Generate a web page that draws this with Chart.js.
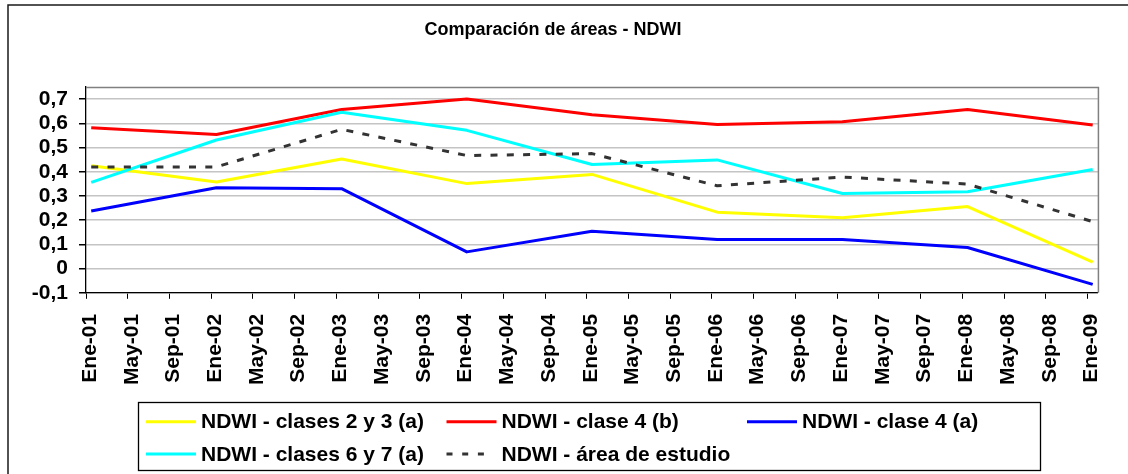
<!DOCTYPE html>
<html>
<head>
<meta charset="utf-8">
<script src="https://cdn.jsdelivr.net/npm/chart.js@4.4.1/dist/chart.umd.min.js"></script>
<style>
html,body{margin:0;padding:0;background:#fff;}
#wrap{width:1128px;height:474px;}
</style>
</head>
<body>
<div id="wrap"><canvas id="c" width="1128" height="474"></canvas></div>
<script>
// ---------- DATA ----------
const tickLabels = ['Ene-01','May-01','Sep-01','Ene-02','May-02','Sep-02','Ene-03','May-03','Sep-03',
  'Ene-04','May-04','Sep-04','Ene-05','May-05','Sep-05','Ene-06','May-06','Sep-06',
  'Ene-07','May-07','Sep-07','Ene-08','May-08','Sep-08','Ene-09'];
const sampleDates = ['Ene-01','Ene-02','Ene-03','Ene-04','Ene-05','Ene-06','Ene-07','Ene-08','Ene-09'];
// months after Ene-01 (mid-January image dates)
const sampleMonths = [0.5, 12.5, 24.5, 36.5, 48.5, 60.5, 72.5, 84.5, 96.5];
const clases23a  = [0.425, 0.358, 0.453, 0.351, 0.389, 0.233, 0.210, 0.256, 0.027];
const clase4b    = [0.582, 0.554, 0.657, 0.700, 0.635, 0.595, 0.606, 0.657, 0.593];
const clase4a    = [0.238, 0.334, 0.330, 0.069, 0.154, 0.120, 0.120, 0.087, -0.065];
const clases67a  = [0.356, 0.531, 0.646, 0.571, 0.430, 0.449, 0.310, 0.317, 0.409];
const areaEstudio= [0.420, 0.420, 0.575, 0.467, 0.475, 0.342, 0.378, 0.349, 0.194];
const seriesLabels = ['NDWI - clases 2 y 3 (a)','NDWI - clase 4 (b)','NDWI - clase 4 (a)','NDWI - clases 6 y 7 (a)','NDWI - área de estudio'];

// ---------- STYLE ----------
const FONT = '"Liberation Sans", Arial, Helvetica, sans-serif';
Chart.defaults.font.family = FONT;
Chart.defaults.color = '#000';

const toPoints = (vals) => vals.map((v, i) => ({x: sampleMonths[i], y: v}));

const LEG = {x: 138, y: 402, w: 902, h: 68, padX: 8, colW: 300.5, row0: 19.7, rowH: 32.3, lineLen: 50, gap: 5};

const framePlugin = {
  id: 'frame',
  beforeDraw(chart) {
    const ctx = chart.ctx;
    ctx.save();
    ctx.fillStyle = '#fff';
    ctx.fillRect(0, 0, chart.width, chart.height);
    ctx.restore();
  },
  afterDraw(chart) {
    const ctx = chart.ctx;
    const a = chart.chartArea;
    ctx.save();
    // outer frame (top & left visible)
    ctx.strokeStyle = '#1a1a1a';
    ctx.lineWidth = 1.5;
    ctx.beginPath();
    ctx.moveTo(8, chart.height + 5);
    ctx.lineTo(8, 5);
    ctx.lineTo(chart.width + 5, 5);
    ctx.stroke();
    // plot area top & right border
    ctx.strokeStyle = '#808080';
    ctx.lineWidth = 1.5;
    ctx.beginPath();
    ctx.moveTo(a.left, a.top + 0.5);
    ctx.lineTo(a.right + 0.5, a.top + 0.5);
    ctx.lineTo(a.right + 0.5, a.bottom);
    ctx.stroke();
    // legend box
    ctx.strokeStyle = '#000';
    ctx.lineWidth = 1.3;
    ctx.strokeRect(LEG.x + 0.5, LEG.y + 0.5, LEG.w, LEG.h);
    ctx.font = 'bold 21px ' + FONT;
    ctx.textBaseline = 'middle';
    ctx.textAlign = 'left';
    chart.data.datasets.forEach((ds, i) => {
      const col = i % 3, row = Math.floor(i / 3);
      const x0 = LEG.x + LEG.padX + col * LEG.colW;
      const y0 = LEG.y + LEG.row0 + row * LEG.rowH;
      ctx.beginPath();
      ctx.setLineDash(ds.borderDash ? [6, 9.7] : []);
      ctx.strokeStyle = ds.borderColor;
      ctx.lineWidth = 3;
      ctx.moveTo(x0, y0);
      ctx.lineTo(x0 + (ds.borderDash ? 38 : LEG.lineLen), y0);
      ctx.stroke();
      ctx.setLineDash([]);
      ctx.fillStyle = '#000';
      ctx.fillText(ds.label, x0 + LEG.lineLen + LEG.gap, y0 + 1);
    });
    ctx.restore();
  }
};

const mk = (label, vals, color, order, dash) => ({
  label, data: toPoints(vals), borderColor: color, backgroundColor: color,
  borderWidth: 3, pointRadius: 0, tension: 0, fill: false, order,
  borderDash: dash, borderJoinStyle: 'round'
});

new Chart(document.getElementById('c'), {
  type: 'line',
  data: {
    datasets: [
      mk(seriesLabels[0], clases23a, '#ffff00', 5),
      mk(seriesLabels[1], clase4b, '#ff0000', 4),
      mk(seriesLabels[2], clase4a, '#0000ff', 3),
      mk(seriesLabels[3], clases67a, '#00ffff', 2),
      mk(seriesLabels[4], areaEstudio, '#333333', 1, [7, 9.3])
    ]
  },
  options: {
    responsive: false,
    animation: false,
    devicePixelRatio: 1,
    layout: {padding: {left: 8, right: 30, top: 0, bottom: 74}},
    plugins: {
      legend: {display: false},
      tooltip: {enabled: false},
      title: {
        display: true,
        text: 'Comparación de áreas - NDWI',
        color: '#000',
        font: {size: 18, weight: 'bold', family: FONT},
        padding: {top: 19, bottom: 46.4}
      }
    },
    scales: {
      x: {
        type: 'linear',
        min: 0, max: 97,
        grid: {drawOnChartArea: false, color: '#000', tickLength: 6, lineWidth: 1},
        border: {color: '#000', width: 1.3},
        ticks: {
          stepSize: 4, includeBounds: false, autoSkip: false,
          minRotation: 90, maxRotation: 90, labelOffset: 4, padding: 15,
          color: '#000', font: {size: 21, weight: 'bold', family: FONT},
          callback: (v) => { const i = Math.round(v / 4); return tickLabels[i] !== undefined ? tickLabels[i] : ''; }
        },
        afterBuildTicks: (s) => { s.ticks = s.ticks.filter(t => t.value <= 96.001); }
      },
      y: {
        min: -0.1, max: 0.75,
        grid: {color: '#c4c4c4', lineWidth: 1.5, tickColor: '#000', tickLength: 7},
        border: {color: '#000', width: 1.3},
        ticks: {
          stepSize: 0.1, includeBounds: false, autoSkip: false, padding: 11,
          color: '#000', font: {size: 21, weight: 'bold', family: FONT},
          callback: (v) => Math.abs(v) < 1e-9 ? '0' : v.toFixed(1).replace('.', ',')
        },
        afterBuildTicks: (s) => { s.ticks = s.ticks.filter(t => t.value <= 0.7001); },
        afterFit: (s) => { s.width = 78; }
      }
    }
  },
  plugins: [framePlugin]
});
</script>
</body>
</html>
